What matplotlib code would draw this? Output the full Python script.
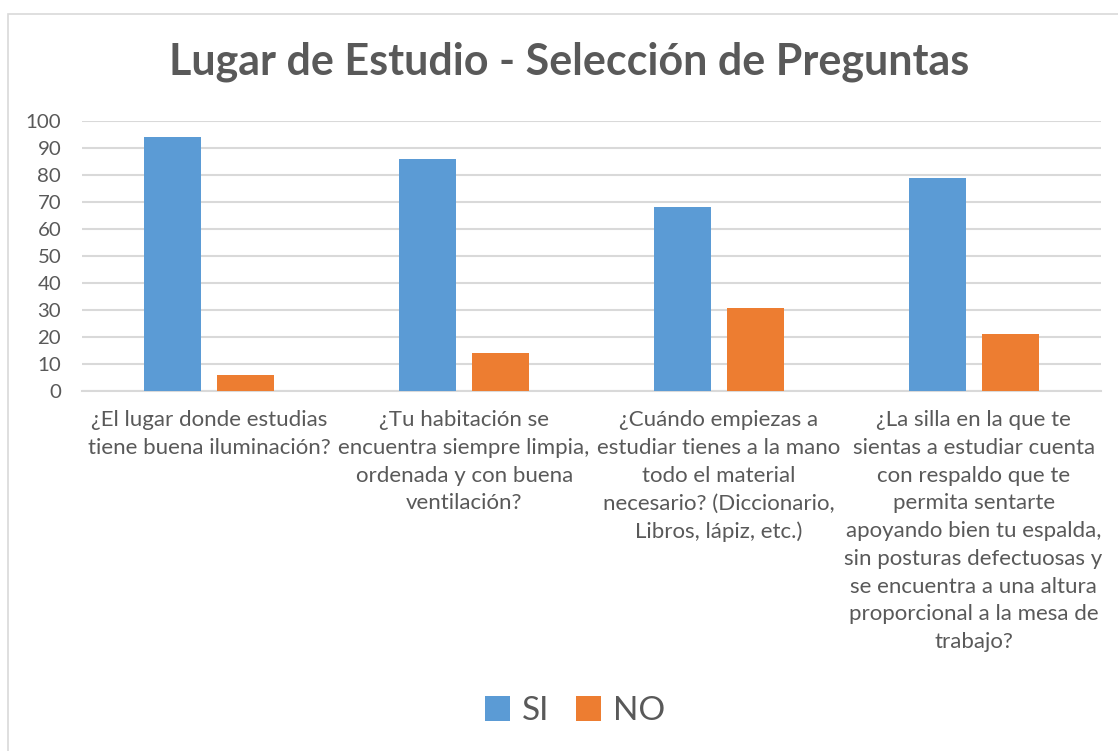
import matplotlib.pyplot as plt
import matplotlib.patches as mpatches
import numpy as np

# Chart data
categories = [
    "¿El lugar donde estudias\ntiene buena iluminación?",
    "¿Tu habitación se\nencuentra siempre limpia,\nordenada y con buena\nventilación?",
    "¿Cuándo empiezas a\nestudiar tienes a la mano\ntodo el material\nnecesario? (Diccionario,\nLibros, lápiz, etc.)",
    "¿La silla en la que te\nsientas a estudiar cuenta\ncon respaldo que te\npermita sentarte\napoyando bien tu espalda,\nsin posturas defectuosas y\nse encuentra a una altura\nproporcional a la mesa de\ntrabajo?",
]
si_values = [94, 86, 68.3, 78.8]
no_values = [5.8, 14.1, 30.7, 21.2]
y_ticks = [0, 10, 20, 30, 40, 50, 60, 70, 80, 90, 100]

BLUE = '#5B9BD5'
ORANGE = '#ED7D31'
TEXT = '#595959'
GRID = '#D9D9D9'

plt.rcParams['font.family'] = ['Lato', 'DejaVu Sans']

fig = plt.figure(figsize=(11.18, 7.51), dpi=100)

# light border around the chart area (cut off at right/bottom as in the reference)
fig.patches.append(mpatches.Rectangle((7.5 / 1118, -0.1), 1.2, 1 - 13.5 / 751 + 0.1,
                                      transform=fig.transFigure, fill=False,
                                      edgecolor=GRID, linewidth=1.2))

ax = fig.add_axes([82 / 1118, 1 - 391 / 751, (1101 - 82) / 1118, (391 - 121) / 751])

x = np.arange(len(categories))
width = 0.224
offset = 0.143
ax.bar(x - offset, si_values, width, color=BLUE, label='SI', zorder=3)
ax.bar(x + offset, no_values, width, color=ORANGE, label='NO', zorder=3)

ax.set_xlim(-0.5, len(categories) - 0.5)
ax.set_ylim(0, 100)
ax.set_yticks(y_ticks)
ax.yaxis.grid(True, color=GRID, linewidth=1.5, zorder=0)
ax.set_axisbelow(True)
for side in ['top', 'right', 'left']:
    ax.spines[side].set_visible(False)
ax.spines['bottom'].set_color(GRID)
ax.spines['bottom'].set_linewidth(1.5)
ax.tick_params(axis='both', length=0, labelsize=14.7, labelcolor=TEXT)
ax.tick_params(axis='y', pad=15)
ax.set_xticks(x)
ax.set_xticklabels(categories, linespacing=1.48, fontsize=16)
ax.tick_params(axis='x', pad=14)

fig.text(569 / 1118, 1 - 62 / 751, 'Lugar de Estudio - Selección de Preguntas',
         ha='center', va='center', fontsize=31, fontweight='bold', color=TEXT)

leg = fig.legend(loc='center', bbox_to_anchor=(575 / 1118, 1 - 711 / 751), ncol=2,
                 frameon=False, fontsize=24, handlelength=0.75, handleheight=0.75,
                 handletextpad=0.35, columnspacing=0.8, labelcolor=TEXT)

fig.savefig('out.png', dpi=100)
